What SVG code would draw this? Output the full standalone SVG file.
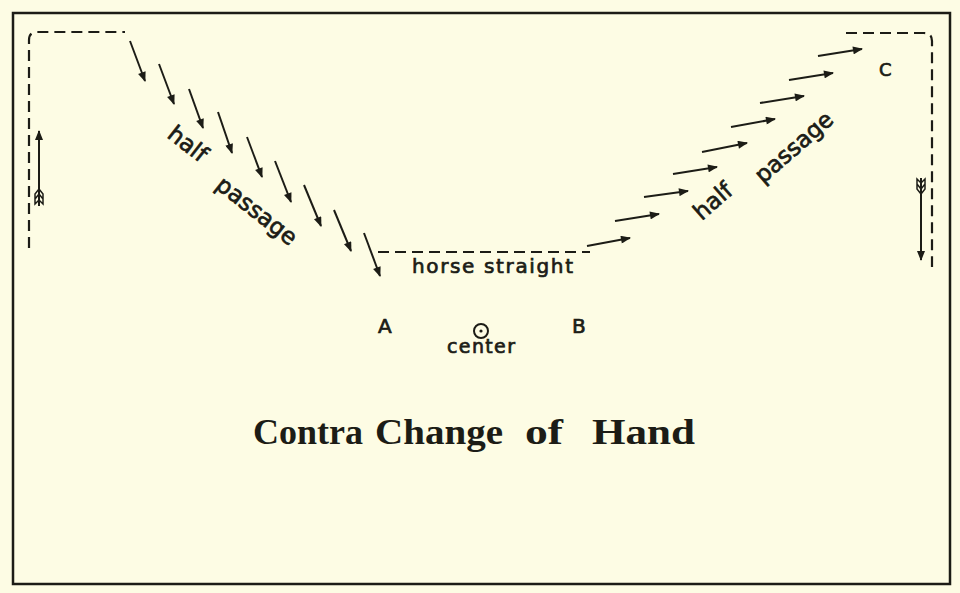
<svg xmlns="http://www.w3.org/2000/svg" width="960" height="593" viewBox="0 0 960 593">
<defs>
<style>
.bg{fill:#fdfce4}
.frame{fill:none;stroke:#1c1c16;stroke-width:2.5}
.dash{fill:none;stroke:#1c1c16;stroke-width:2.2;stroke-dasharray:11 6}
.arr{fill:none;stroke:#1c1c16;stroke-width:2;marker-end:url(#head)}
.fl{fill:none;stroke:#1c1c16;stroke-width:1.5}
.lbl{font-family:"DejaVu Sans","Liberation Sans",sans-serif;fill:#1c1c16;stroke:#1c1c16;stroke-width:0.7}
.title{font-family:"Liberation Serif","DejaVu Serif",serif;font-weight:bold;fill:#1c1c16;font-size:35px}
</style>
<marker id="head" viewBox="0 0 10 8" refX="9" refY="4" markerWidth="11" markerHeight="8" markerUnits="userSpaceOnUse" orient="auto">
<path d="M0,0 L10,4 L0,8 Z" fill="#1c1c16"/>
</marker>
</defs>
<rect class="bg" x="0" y="0" width="960" height="593"/>
<rect class="frame" x="13" y="13" width="937" height="571"/>

<g id="track-left">
<path class="dash" d="M29,248 V40 Q29,32 37,32 H125"/>
</g>
<g id="track-straight">
<path class="dash" d="M378,252 H590"/>
</g>
<g id="track-right">
<path class="dash" d="M846,33 H924 Q932,33 932,41 V267"/>
</g>

<g id="connectors">
<g id="left-half-passage">
<line class="arr" x1="130" y1="41" x2="145" y2="81"/>
<line class="arr" x1="159" y1="64" x2="174" y2="104"/>
<line class="arr" x1="189" y1="89" x2="203" y2="128"/>
<line class="arr" x1="218" y1="112" x2="232" y2="153"/>
<line class="arr" x1="247" y1="137" x2="262" y2="177"/>
<line class="arr" x1="275" y1="161" x2="291" y2="202"/>
<line class="arr" x1="304" y1="185" x2="321" y2="226"/>
<line class="arr" x1="334" y1="210" x2="351" y2="251"/>
<line class="arr" x1="364" y1="233" x2="380" y2="276"/>
</g>
<g id="right-half-passage">
<line class="arr" x1="587" y1="246" x2="630" y2="238"/>
<line class="arr" x1="615" y1="221" x2="659" y2="214"/>
<line class="arr" x1="644" y1="197" x2="688" y2="191"/>
<line class="arr" x1="673" y1="174" x2="717" y2="167"/>
<line class="arr" x1="702" y1="152" x2="747" y2="143"/>
<line class="arr" x1="731" y1="127" x2="775" y2="119"/>
<line class="arr" x1="760" y1="103" x2="804" y2="96"/>
<line class="arr" x1="789" y1="80" x2="833" y2="73"/>
<line class="arr" x1="818" y1="56" x2="862" y2="49"/>
</g>
<g id="arrow-up-left">
<line class="arr" x1="39" y1="206" x2="39" y2="131"/>
<path class="fl" d="M35,204 V194 L39,189 L43,194 V204 L39,200 Z M35,199 L39,194 L43,199"/>
</g>
<g id="arrow-down-right">
<line class="arr" x1="921" y1="178" x2="921" y2="260"/>
<path class="fl" d="M917,179 V189 L921,194 L925,189 V179 L921,183 Z M917,184 L921,189 L925,184"/>
</g>
</g>

<g id="label-left-half">
<text class="lbl" font-size="23" text-anchor="middle" transform="translate(183,150) rotate(38)">half</text>
</g>
<g id="label-left-passage">
<text class="lbl" font-size="23" text-anchor="middle" transform="translate(252,217) rotate(38)">passage</text>
</g>
<g id="label-right-half">
<text class="lbl" font-size="23" text-anchor="middle" transform="translate(718,207) rotate(-41)">half</text>
</g>
<g id="label-right-passage">
<text class="lbl" font-size="23" text-anchor="middle" transform="translate(799,153) rotate(-41)">passage</text>
</g>
<g id="label-horse-straight">
<text class="lbl" font-size="20" x="412" y="273" textLength="161">horse straight</text>
</g>
<g id="point-A">
<text class="lbl" font-size="20" x="378" y="333">A</text>
</g>
<g id="point-B">
<text class="lbl" font-size="20" x="572" y="333">B</text>
</g>
<g id="point-C">
<text class="lbl" font-size="18" x="879" y="76">C</text>
</g>
<g id="center">
<circle cx="481" cy="331" r="7" fill="none" stroke="#1c1c16" stroke-width="2"/>
<circle cx="481" cy="331" r="1.6" fill="#1c1c16"/>
<text class="lbl" font-size="19" x="447" y="353" textLength="68">center</text>
</g>
<g id="title">
<text class="title" x="253" y="444" textLength="110" lengthAdjust="spacingAndGlyphs">Contra</text>
<text class="title" x="375" y="444" textLength="128" lengthAdjust="spacingAndGlyphs">Change</text>
<text class="title" x="525" y="444" textLength="38" lengthAdjust="spacingAndGlyphs">of</text>
<text class="title" x="592" y="444" textLength="103" lengthAdjust="spacingAndGlyphs">Hand</text>
</g>
</svg>
